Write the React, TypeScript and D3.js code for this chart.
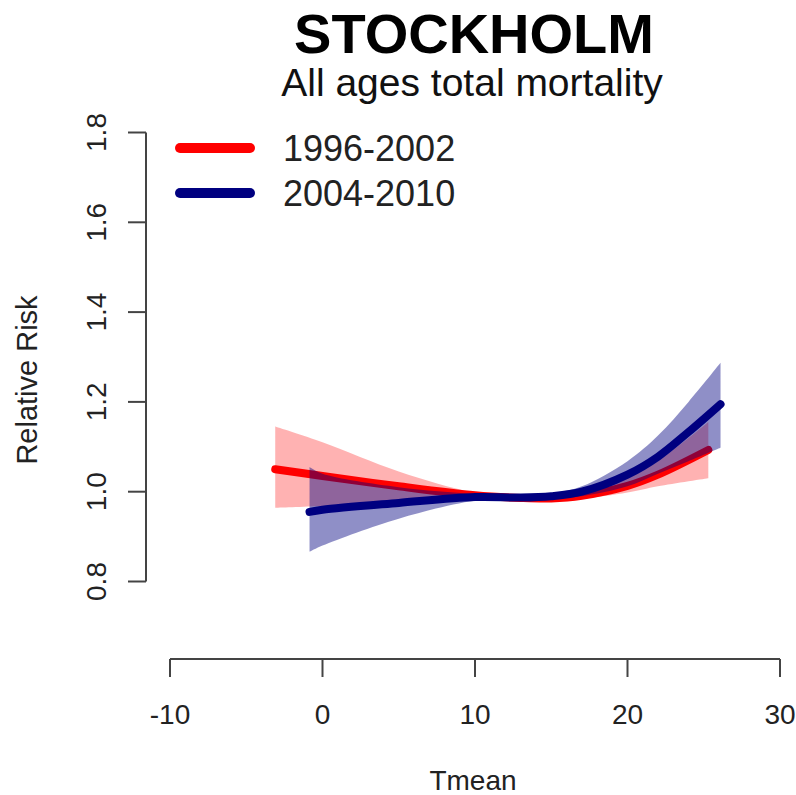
import React from "react";
import * as d3 from "d3";

const xTicks = [-10, 0, 10, 20, 30];
const yTicks = [0.8, 1.0, 1.2, 1.4, 1.6, 1.8];

const redX = [-3.1, 0, 5, 10, 13, 15, 17, 20, 22, 25.3];
const redFit = [1.05, 1.035, 1.012, 0.992, 0.986, 0.985, 0.991, 1.013, 1.038, 1.093];
const redHi = [1.145, 1.11, 1.045, 0.998, 0.991, 0.99, 0.999, 1.03, 1.068, 1.155];
const redLo = [0.964, 0.968, 0.976, 0.982, 0.98, 0.98, 0.984, 0.998, 1.012, 1.03];

const blueX = [-0.85, 0, 5, 10, 13, 15, 17, 20, 22, 24, 26.1];
const blueFit = [0.955, 0.96, 0.975, 0.988, 0.987, 0.99, 1.0, 1.038, 1.078, 1.133, 1.195];
const blueHi = [1.055, 1.04, 1.01, 0.995, 0.991, 0.996, 1.012, 1.068, 1.125, 1.2, 1.287];
const blueLo = [0.866, 0.88, 0.94, 0.98, 0.983, 0.985, 0.99, 1.012, 1.04, 1.068, 1.098];

const legendLabels = ["1996-2002", "2004-2010"];

const FONT = "'Liberation Sans', Arial, Helvetica, sans-serif";

export default function App() {
  const x = d3.scaleLinear().domain([-10, 30]).range([170, 780]);
  const y = d3.scaleLinear().domain([0.8, 1.8]).range([581.5, 132.5]);
  const curve = d3.curveCatmullRom.alpha(0.5);

  const mk = (xs: number[], lo: number[], hi: number[]) =>
    d3
      .area<number>()
      .x((_, i) => x(xs[i]))
      .y0((_, i) => y(lo[i]))
      .y1((_, i) => y(hi[i]))
      .curve(curve)(xs)!;
  const ln = (xs: number[], v: number[]) =>
    d3
      .line<number>()
      .x((_, i) => x(xs[i]))
      .y((_, i) => y(v[i]))
      .curve(curve)(xs)!;

  const axisColor = "#444";
  const textColor = "#222";
  const fs = 28;

  return (
    <svg width={796} height={795} style={{ position: "absolute", left: 0, top: 0, background: "#fff" }} fontFamily={FONT}>
      <rect width={796} height={795} fill="#fff" />
      <text x={474} y={53} textAnchor="middle" fontSize={56} fontWeight="bold" fill="#000">STOCKHOLM</text>
      <text x={472} y={96} textAnchor="middle" fontSize={39} fill="#111">All ages total mortality</text>

      {/* bands and lines */}
      <path d={mk(redX, redLo, redHi)} fill="rgba(255,0,0,0.3)" />
      <path d={ln(redX, redFit)} fill="none" stroke="#ff0000" strokeWidth={8} strokeLinecap="round" />
      <path d={mk(blueX, blueLo, blueHi)} fill="rgba(0,0,128,0.44)" />
      <path d={ln(blueX, blueFit)} fill="none" stroke="#000080" strokeWidth={8} strokeLinecap="round" />

      {/* y axis */}
      <line x1={146} x2={146} y1={y(0.8)} y2={y(1.8)} stroke={axisColor} strokeWidth={2} />
      {yTicks.map((t) => (
        <g key={t}>
          <line x1={128} x2={146} y1={y(t)} y2={y(t)} stroke={axisColor} strokeWidth={2} />
          <text transform={`translate(106,${y(t)}) rotate(-90)`} textAnchor="middle" fontSize={fs} fill={textColor}>
            {t.toFixed(1)}
          </text>
        </g>
      ))}
      <text transform={`translate(37,380) rotate(-90)`} textAnchor="middle" fontSize={29} fill={textColor}>Relative Risk</text>

      {/* x axis */}
      <line x1={x(-10)} x2={x(30)} y1={659} y2={659} stroke={axisColor} strokeWidth={2} />
      {xTicks.map((t) => (
        <g key={t}>
          <line x1={x(t)} x2={x(t)} y1={659} y2={677} stroke={axisColor} strokeWidth={2} />
          <text x={x(t)} y={724} textAnchor="middle" fontSize={fs} fill={textColor}>{t}</text>
        </g>
      ))}
      <text x={473} y={790} textAnchor="middle" fontSize={fs} fill={textColor}>Tmean</text>

      {/* legend */}
      {legendLabels.map((l, i) => (
        <g key={l}>
          <line x1={180} x2={250} y1={148 + i * 45} y2={148 + i * 45} stroke={i === 0 ? "#ff0000" : "#000080"} strokeWidth={10} strokeLinecap="round" />
          <text x={283} y={161 + i * 45} fontSize={36} fill={textColor}>{l}</text>
        </g>
      ))}
    </svg>
  );
}
